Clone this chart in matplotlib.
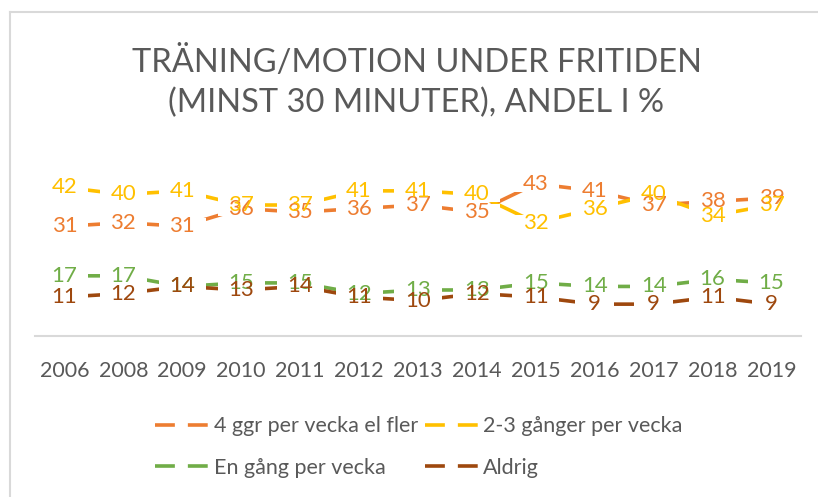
import matplotlib
matplotlib.use("Agg")
import matplotlib.pyplot as plt
from matplotlib.lines import Line2D
from matplotlib.patches import Rectangle

# data
years = ["2006", "2008", "2009", "2010", "2011", "2012", "2013",
         "2014", "2015", "2016", "2017", "2018", "2019"]
fyra_ggr = [31, 32, 31, 36, 35, 36, 37, 35, 43, 41, 37, 38, 39]
tva_tre = [42, 40, 41, 37, 37, 41, 41, 40, 32, 36, 40, 34, 37]
en_gang = [17, 17, 14, 15, 15, 12, 13, 13, 15, 14, 14, 16, 15]
aldrig = [11, 12, 14, 13, 14, 11, 10, 12, 11, 9, 9, 11, 9]

names = ["4 ggr per vecka el fler", "2-3 gånger per vecka",
         "En gång per vecka", "Aldrig"]
colors = ["#ED7D31", "#FFC000", "#70AD47", "#9E480E"]
series = [fyra_ggr, tva_tre, en_gang, aldrig]

gray = "#595959"
plt.rcParams['font.family'] = ['Lato', 'DejaVu Sans']

W, H = 818, 497
fig = plt.figure(figsize=(W / 100, H / 100), dpi=100)
ax = fig.add_axes([35 / W, (H - 336) / H, (801 - 35) / W, (336 - 159) / H])

x = list(range(len(years)))

# lines, then white boxes under the labels (so only a short dash shows), then labels
for vals, c in zip(series, colors):
    ax.plot(x, vals, color=c, lw=2.6, solid_capstyle='butt', zorder=2)
    for xi, v in zip(x, vals):
        w = 0.8 if v >= 10 else 0.66
        ax.add_patch(Rectangle((xi - w / 2, v - 2.2), w, 4.4, fc='white',
                               ec='none', zorder=3))
for vals, c in zip(series, colors):
    for xi, v in zip(x, vals):
        ax.text(xi, v, str(v), ha='center', va='center', fontsize=16,
                color=c, zorder=4)

ax.set_xlim(-0.5, len(years) - 0.5)
ax.set_ylim(0, 50)
ax.set_xticks(x)
ax.set_xticklabels(years, fontsize=15.5, color=gray)
ax.tick_params(axis='x', length=0, pad=18)
ax.set_yticks([])
for s in ['top', 'right', 'left']:
    ax.spines[s].set_visible(False)
ax.spines['bottom'].set_color('#D9D9D9')
ax.spines['bottom'].set_linewidth(1.5)

# title
fig.text(417 / W, 1 - 62 / H, "TRÄNING/MOTION UNDER FRITIDEN", ha='center',
         va='center', fontsize=23.5, color=gray)
fig.text(416 / W, 1 - 103 / H, "(MINST 30 MINUTER), ANDEL I %", ha='center',
         va='center', fontsize=23.5, color=gray)

# legend, filled row by row like the reference
order = [0, 2, 1, 3]
handles = [Line2D([], [], color=colors[i], lw=2.6, dashes=(5.5, 3.6)) for i in order]
fig.legend(handles, [names[i] for i in order], loc='upper left', ncol=2,
           bbox_to_anchor=(136 / W, 1 - 397 / H), frameon=False,
           fontsize=15.5, labelcolor=gray, handlelength=2.47,
           handletextpad=0.25, columnspacing=0.3, labelspacing=1.0)

# chart border (top and left visible)
fig.add_artist(Line2D([10 / W, 10 / W], [0, 1 - 12 / H], color='#D9D9D9', lw=1.5))
fig.add_artist(Line2D([10 / W, 1], [1 - 12 / H, 1 - 12 / H], color='#D9D9D9', lw=1.5))

fig.savefig("out.png", dpi=100)
